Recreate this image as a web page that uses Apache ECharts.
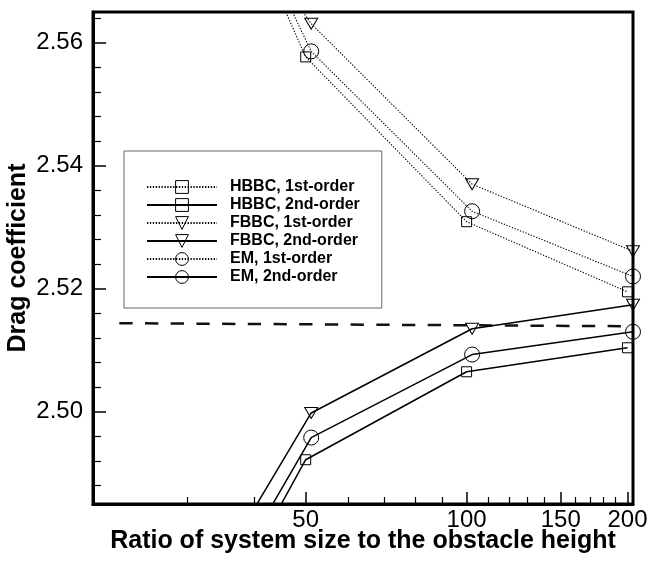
<!DOCTYPE html>
<html>
<head>
<meta charset="utf-8">
<script src="https://cdn.jsdelivr.net/npm/echarts@6/dist/echarts.min.js"></script>
<style>
  html, body { margin: 0; padding: 0; background: #fff; }
  #chart { width: 648px; height: 564px; }
</style>
</head>
<body>
<div id="chart"></div>
<script>
// Ratio of system size to obstacle height (HBBC uses 25..200, FBBC/EM use 25.6..204.8)
const ratioHBBC = [25, 50, 100, 200];
const ratioOther = [25.6, 51.2, 102.4, 204.8];

// Drag coefficient for each boundary scheme and order
const hbbc1st = [2.6167, 2.5577, 2.5309, 2.5195];
const hbbc2nd = [2.4447, 2.4922, 2.5065, 2.5104];
const fbbc1st = [2.6006, 2.5631, 2.5370, 2.5261];
const fbbc2nd = [2.4559, 2.4998, 2.5135, 2.5174];
const em1st   = [2.6135, 2.5586, 2.5326, 2.5220];
const em2nd   = [2.4506, 2.4958, 2.5093, 2.5130];

// Reference (dashed) level
const refRatio = [22.4, 204.8];
const refDrag  = [2.5144, 2.5139];

// Axis ticks
const xMajorTicks = [50, 100, 150, 200];
const xMinorTicks = [30, 40, 60, 70, 80, 90, 110, 120, 130, 140, 160, 170, 180, 190];
const yMajorTicks = [2.50, 2.52, 2.54, 2.56];
const yMinorTicks = [2.488, 2.492, 2.496, 2.504, 2.508, 2.512, 2.516, 2.524, 2.528,
                     2.532, 2.536, 2.544, 2.548, 2.552, 2.556, 2.564];

const seriesNames = ['HBBC, 1st-order', 'HBBC, 2nd-order', 'FBBC, 1st-order',
                     'FBBC, 2nd-order', 'EM, 1st-order', 'EM, 2nd-order'];

const FONT = 'Liberation Sans, Arial, Helvetica, sans-serif';
const X_MIN = 20, X_MAX = 204.8, Y_MIN = 2.485, Y_MAX = 2.565;

function pairs(xs, ys) {
  return xs.map((x, i) => [x, ys[i]]);
}

function makeSeries(name, xs, ys, symbol, dotted) {
  const s = {
    name: name,
    type: 'line',
    data: pairs(xs, ys),
    symbol: symbol,
    showSymbol: true,
    clip: true,
    lineStyle: dotted
      ? { color: '#000', width: 1.1, type: [1.3, 1.6] }
      : { color: '#000', width: 1.5, type: 'solid' },
    itemStyle: { color: 'rgba(255,255,255,0)', borderColor: '#000', borderWidth: 1, borderType: 'solid' },
    emphasis: { disabled: true },
    z: 3
  };
  if (symbol === 'rect') s.symbolSize = 10;
  if (symbol === 'circle') s.symbolSize = 15;
  if (symbol === 'triangle') { s.symbolSize = [13, 11]; s.symbolRotate = 180; }
  return s;
}

const chart = echarts.init(document.getElementById('chart'), null, { renderer: 'canvas' });

const option = {
  animation: false,
  backgroundColor: '#fff',
  grid: {
    left: 93, right: 15, top: 12, bottom: 60,
    show: true, borderColor: '#000', borderWidth: 3,
    outerBoundsMode: 'none'
  },
  legend: {
    orient: 'vertical',
    left: 124, top: 151,
    padding: [28, 22, 23, 22],
    itemWidth: 70, itemHeight: 16, itemGap: 2,
    borderColor: '#666', borderWidth: 1, backgroundColor: '#fff',
    data: seriesNames,
    selectedMode: false,
    itemStyle: { borderType: 'solid', borderWidth: 1 },
    textStyle: {
      fontFamily: FONT, fontSize: 16, fontWeight: 'bold', color: '#000',
      lineHeight: 16, padding: [0, 0, 0, 8]
    }
  },
  xAxis: [
    {
      type: 'log', logBase: 10, min: X_MIN, max: X_MAX, position: 'bottom',
      name: 'Ratio of system size to the obstacle height',
      nameLocation: 'middle', nameGap: 25, nameMoveOverlap: false,
      nameTextStyle: { fontFamily: FONT, fontSize: 25, fontWeight: 'bold', color: '#000' },
      axisLine: { show: true, lineStyle: { color: '#000', width: 3 } },
      axisTick: { show: true, inside: true, length: 12, customValues: xMajorTicks,
                  lineStyle: { color: '#000', width: 1.5 } },
      axisLabel: { show: true, customValues: xMajorTicks, margin: 4,
                   fontFamily: FONT, fontSize: 24, color: '#000',
                   formatter: v => String(Math.round(v)) },
      splitLine: { show: false }, minorTick: { show: false }
    },
    {
      type: 'log', logBase: 10, min: X_MIN, max: X_MAX, position: 'bottom',
      axisLine: { show: false },
      axisTick: { show: true, inside: true, length: 7, customValues: xMinorTicks,
                  lineStyle: { color: '#000', width: 1.2 } },
      axisLabel: { show: false },
      splitLine: { show: false }
    }
  ],
  yAxis: [
    {
      type: 'value', min: Y_MIN, max: Y_MAX, position: 'left',
      name: 'Drag coefficient',
      nameLocation: 'middle', nameGap: 62, nameMoveOverlap: false,
      nameTextStyle: { fontFamily: FONT, fontSize: 25, fontWeight: 'bold', color: '#000' },
      axisLine: { show: true, lineStyle: { color: '#000', width: 3 } },
      axisTick: { show: true, inside: true, length: 13, customValues: yMajorTicks,
                  lineStyle: { color: '#000', width: 1.5 } },
      axisLabel: { show: true, customValues: yMajorTicks, margin: 10,
                   fontFamily: FONT, fontSize: 24, color: '#000',
                   formatter: v => v.toFixed(2) },
      splitLine: { show: false }
    },
    {
      type: 'value', min: Y_MIN, max: Y_MAX, position: 'left',
      axisLine: { show: false },
      axisTick: { show: true, inside: true, length: 8, customValues: yMinorTicks,
                  lineStyle: { color: '#000', width: 1.2 } },
      axisLabel: { show: false },
      splitLine: { show: false }
    }
  ],
  series: [
    makeSeries(seriesNames[0], ratioHBBC, hbbc1st, 'rect', true),
    makeSeries(seriesNames[1], ratioHBBC, hbbc2nd, 'rect', false),
    makeSeries(seriesNames[2], ratioOther, fbbc1st, 'triangle', true),
    makeSeries(seriesNames[3], ratioOther, fbbc2nd, 'triangle', false),
    makeSeries(seriesNames[4], ratioOther, em1st, 'circle', true),
    makeSeries(seriesNames[5], ratioOther, em2nd, 'circle', false),
    {
      name: 'reference',
      type: 'line',
      data: pairs(refRatio, refDrag),
      symbol: 'none',
      lineStyle: { color: '#111', width: 2.5, type: [13.3, 12.4] },
      emphasis: { disabled: true },
      z: 2
    }
  ]
};

chart.setOption(option);
</script>
</body>
</html>
